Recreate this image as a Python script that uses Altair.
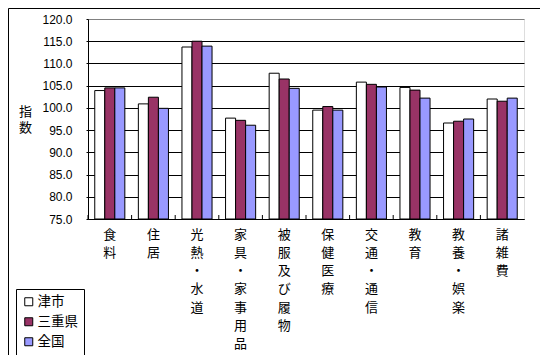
import altair as alt
import pandas as pd

categories = ["食料", "住居", "光熱・水道", "家具・家事用品", "被服及び履物",
              "保健医療", "交通・通信", "教育", "教養・娯楽", "諸雑費"]
series = ["津市", "三重県", "全国"]
tsu = [103.9, 100.9, 113.7, 97.7, 107.8, 99.5, 105.8, 104.6, 96.6, 102.0]
mie = [104.5, 102.4, 115.0, 97.2, 106.5, 100.3, 105.3, 104.0, 97.0, 101.5]
zenkoku = [104.5, 99.9, 113.9, 96.1, 104.4, 99.5, 104.7, 102.2, 97.5, 102.2]
colors = ["#FFFFFF", "#993366", "#9999FF"]
y_ticks = [75, 80, 85, 90, 95, 100, 105, 110, 115, 120]

rows = []
for s, vals in zip(series, [tsu, mie, zenkoku]):
    for c, v in zip(categories, vals):
        rows.append({"cat": c, "series": s, "value": v})
df = pd.DataFrame(rows)
cat_df = pd.DataFrame({"cat": categories})
frame_df = pd.DataFrame({"a": [0]})

JP = "Noto Sans CJK JP"

x_enc = alt.X(
    "cat:N", sort=categories,
    scale=alt.Scale(paddingInner=0, paddingOuter=0),
    axis=alt.Axis(
        title=None, labelAngle=0, labelExpr="split(datum.label, '')",
        labelFont=JP, labelFontSize=13, labelLineHeight=18.3,
        labelBaseline="top", labelPadding=9, ticks=False,
        domainColor="black", labelColor="black", grid=False,
    ),
)

bars = alt.Chart(df).mark_bar(stroke="black", strokeWidth=1, clip=True).encode(
    x=x_enc,
    xOffset=alt.XOffset("series:N", sort=series,
                        scale=alt.Scale(paddingInner=0, paddingOuter=0.674)),
    y=alt.Y(
        "value:Q",
        scale=alt.Scale(domain=[75, 120], nice=False, zero=False, clamp=True),
        axis=alt.Axis(
            values=y_ticks, format=".1f", title=["指", "数"], titleAngle=0,
            titleX=-63, titleY=86, titleAlign="center", titleBaseline="top",
            titleFont=JP, titleFontSize=13, titleFontWeight="normal",
            titleLineHeight=16.5, titleColor="black",
            labelFont="Liberation Sans", labelFontSize=12, labelColor="black",
            labelPadding=14, tickSize=2, tickColor="black", domainColor="black",
            grid=True,
            gridColor={"condition": {"test": "datum.value == 120", "value": "#808080"},
                       "value": "black"},
            gridOpacity=1,
        ),
    ),
    color=alt.Color(
        "series:N", sort=series,
        scale=alt.Scale(domain=series, range=colors),
        legend=alt.Legend(
            title=None, orient="none", legendX=-72, legendY=270,
            strokeColor="black", fillColor="white", padding=6,
            symbolType="square", symbolSize=64, symbolStrokeColor="black",
            symbolStrokeWidth=1, labelFont=JP, labelFontSize=13.5,
            labelColor="black", rowPadding=5, labelOffset=2,
        ),
    ),
)

ticks = alt.Chart(cat_df).mark_rule(color="black", strokeWidth=1).encode(
    x=alt.X("cat:N", sort=categories, bandPosition=0),
    y=alt.value(196),
    y2=alt.value(200),
)

frame = alt.Chart(frame_df).mark_rect(
    fillOpacity=0, stroke="black", strokeWidth=1
).encode(
    x=alt.value(-79.5), x2=alt.value(453.5),
    y=alt.value(-10.5), y2=alt.value(338.5),
)

chart = alt.layer(frame, bars, ticks).properties(
    width=436, height=200,
    autosize=alt.AutoSizeParams(type="none"),
    padding={"left": 80, "top": 11, "right": 16, "bottom": 136},
).configure_view(stroke="#808080", strokeWidth=1).configure(background="white")

chart.save("out.html", embed_options={"renderer": "svg", "actions": False})
